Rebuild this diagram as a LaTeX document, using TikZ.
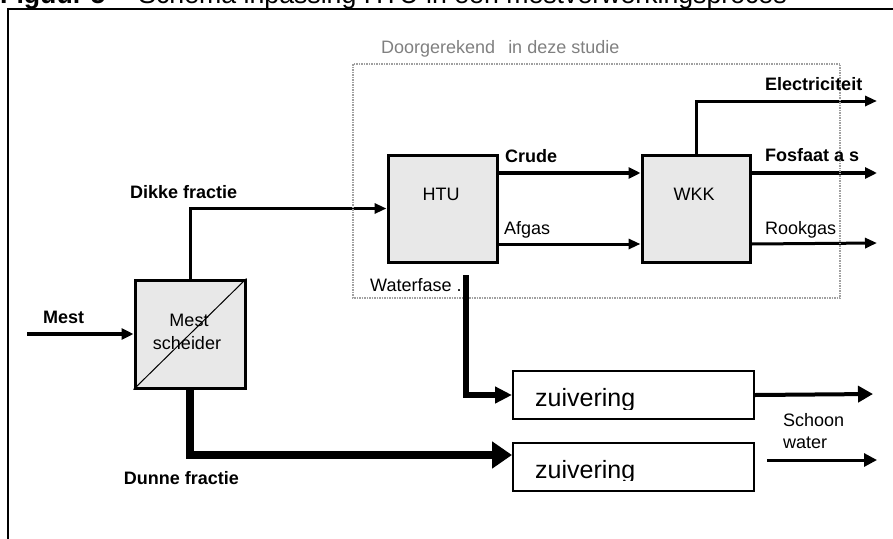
\documentclass[tikz,border=0pt]{standalone}
\usepackage{fontspec}
\setmainfont{Liberation Sans}
\usetikzlibrary{arrows.meta}

\definecolor{boxfill}{RGB}{232,232,232}
\definecolor{dotgray}{RGB}{160,160,160}
\definecolor{notegray}{RGB}{128,128,128}

\tikzset{
  unit/.style={draw, line width=3pt, fill=boxfill, inner sep=0pt},
  cleanbox/.style={draw, line width=2pt, fill=white, inner sep=0pt,
    minimum width=241pt, minimum height=48pt},
  lbl/.style={inner sep=0pt, font=\fontsize{18}{21.6}\selectfont},
  lblb/.style={inner sep=0pt, font=\fontsize{18}{21.6}\selectfont\bfseries},
  ztext/.style={inner sep=0pt, font=\fontsize{25}{30}\selectfont},
  flow/.style={line width=3pt, -{Triangle[length=12pt,width=10pt]}},
  flowthick/.style={line width=3.5pt, -{Triangle[length=12pt,width=11pt]}},
}

\begin{document}
\begin{tikzpicture}[x=1pt, y=-1pt]
  \useasboundingbox (0,0) rectangle (893,538);

  % caption above the frame
  \node[inner sep=0pt, anchor=base west, font=\fontsize{26.7}{32}\selectfont\bfseries]
    (captionnr) at (0,3) {Figuur 5};
  \node[inner sep=0pt, anchor=base east, font=\fontsize{26.7}{32}\selectfont]
    (captiontext) at (787,3) {– Schema inpassing HTU in een mestverwerkingsproces};

  % outer frame
  \draw[line width=2pt] (8,545) -- (8,9) -- (900,9);

  % process units
  \node[unit, minimum width=110pt, minimum height=108pt] (sep) at (190,334) {};
  \draw[line width=1pt] (sep.south west) -- (sep.north east);
  \node[lbl, anchor=base] (septext1) at (189,326) {Mest};
  \node[lbl, anchor=base] (septext2) at (187,349.3) {scheider};

  \node[unit, minimum width=109pt, minimum height=107pt] (htu) at (442.5,208.5) {};
  \node[lbl] (htutext) at (441,194) {HTU};

  \node[unit, minimum width=108pt, minimum height=107pt] (wkk) at (696,208.5) {};
  \node[lbl] (wkktext) at (694,194) {WKK};

  \node[cleanbox] (zuiv1) at (633.5,395) {};
  \node[cleanbox] (zuiv2) at (633.5,467) {};
  \begin{scope}
    \clip (513,371) rectangle (754,409);
    \node[ztext, anchor=base west] (z1text) at (535,406.7) {zuivering};
  \end{scope}
  \begin{scope}
    \clip (513,443) rectangle (754,480.3);
    \node[ztext, anchor=base west] (z2text) at (535,478) {zuivering};
  \end{scope}

  % free ends of the streams
  \coordinate (mestin) at (27,334);
  \coordinate (elecout) at (877,101);
  \coordinate (fosout) at (877,173);
  \coordinate (rookout) at (877,243);
  \coordinate (water1) at (873,394);
  \coordinate (water2a) at (767,460);
  \coordinate (water2b) at (877,460);
  \coordinate (wfstart) at (466,275);

  % streams
  \draw[flowthick] (mestin) -- (sep.west);
  \draw[flow] (sep.north) |- (htu.west);
  \draw[line width=8pt, -{Triangle[length=20pt,width=26pt]}]
    (sep.south) |- ([yshift=12pt]zuiv2.west);
  \draw[flowthick] ([yshift=35.5pt]htu.east) -- ([yshift=35.5pt]wkk.west);
  \draw[flow] ([yshift=-35.5pt]htu.east) -- ([yshift=-35.5pt]wkk.west);
  \draw[flow] (wkk.north) |- (elecout);
  \draw[flowthick] ([yshift=35.5pt]wkk.east) -- (fosout);
  \draw[flow] ([yshift=-35.5pt]wkk.east) -- (rookout);
  \draw[line width=4pt, -{Triangle[length=15pt,width=16pt]}] (zuiv1.east) -- (water1);
  \draw[line width=3pt, -{Triangle[length=13pt,width=13pt]}] (water2a) -- (water2b);

  % system boundary of the study
  \draw[dotgray, line width=2pt, dash pattern=on 1.5pt off 1pt]
    (353,64) rectangle (840,298);
  \node[lbl, anchor=base west, text=notegray] (studie) at (381,53)
    {Doorgerekend\ \ \,in deze studie};

  \draw[line width=6pt, -{Triangle[length=17pt,width=16pt]}] (wfstart) |- (zuiv1.west);

  % stream labels
  \node[lblb, anchor=base west] (lmest) at (43,323.5) {Mest};
  \node[lblb, anchor=base west] (ldikke) at (130,198.5) {Dikke fractie};
  \node[lblb, anchor=base east] (ldunne) at (239,484.5) {Dunne fractie};
  \node[lblb, anchor=base west] (lcrude) at (505,162.5) {Crude};
  \node[lbl, anchor=base west] (lafgas) at (504,234.8) {Afgas};
  \node[lbl, anchor=base west] (lwater) at (370,291.7) {Waterfase .};
  \node[lblb, anchor=base west] (lelec) at (765,90.7) {Electriciteit};
  \node[lblb, anchor=base west] (lfos) at (765,161.7) {Fosfaat a s};
  \node[lbl, anchor=base west] (lrook) at (765,234) {Rookgas};
  \node[lbl, anchor=base west] (lschoon1) at (783,426.7) {Schoon};
  \node[lbl, anchor=base west] (lschoon2) at (783,448.3) {water};
\end{tikzpicture}
\end{document}
